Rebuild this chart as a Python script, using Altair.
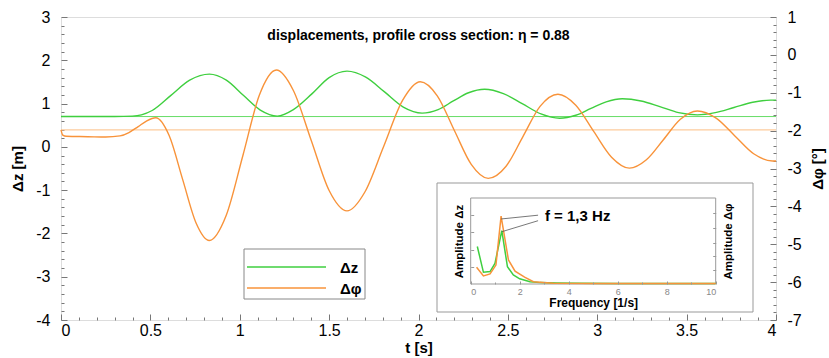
import altair as alt
import pandas as pd

# ---------------- data ----------------
t_z = [0.0, 0.1, 0.2, 0.3, 0.4, 0.45, 0.51, 0.615, 0.72, 0.83, 0.925, 1.02, 1.115,
       1.21, 1.3, 1.405, 1.5, 1.6, 1.705, 1.81, 1.915, 2.02, 2.11, 2.195, 2.28,
       2.37, 2.475, 2.58, 2.685, 2.79, 2.88, 2.965, 3.05, 3.14, 3.245, 3.35,
       3.455, 3.56, 3.66, 3.765, 3.87, 3.97, 4.0]
dz = [0.70, 0.70, 0.70, 0.70, 0.71, 0.74, 0.84, 1.19, 1.54, 1.68, 1.54, 1.19, 0.85,
      0.71, 0.86, 1.23, 1.60, 1.75, 1.61, 1.27, 0.92, 0.78, 0.86, 1.06, 1.25,
      1.33, 1.23, 1.00, 0.76, 0.66, 0.73, 0.89, 1.04, 1.11, 1.06, 0.93,
      0.79, 0.74, 0.79, 0.91, 1.03, 1.08, 1.08]

t_phi = [0.0, 0.01, 0.03, 0.15, 0.25, 0.33, 0.38, 0.43, 0.48, 0.53, 0.605, 0.68,
         0.755, 0.83, 0.924, 1.018, 1.11, 1.205, 1.30, 1.40, 1.50, 1.60, 1.70,
         1.805, 1.91, 2.01, 2.105, 2.20, 2.295, 2.39, 2.49, 2.585, 2.68, 2.78,
         2.88, 2.98, 3.08, 3.18, 3.275, 3.37, 3.465, 3.56, 3.665, 3.77, 3.875,
         3.98, 4.0]
dphi = [-1.98, -2.12, -2.15, -2.16, -2.17, -2.14, -2.05, -1.90, -1.74, -1.66, -2.13,
        -3.28, -4.43, -4.90, -4.24, -2.65, -1.06, -0.40, -0.94, -2.26, -3.58,
        -4.12, -3.62, -2.42, -1.21, -0.71, -1.08, -1.99, -2.89, -3.26, -2.94,
        -2.15, -1.36, -1.04, -1.33, -2.02, -2.70, -2.99, -2.77, -2.24, -1.70,
        -1.48, -1.67, -2.14, -2.61, -2.80, -2.80]

dz_mean = 0.70
dphi_mean = -1.98

freq_z = [0.27, 0.52, 0.79, 0.99, 1.27, 1.50, 1.74, 2.0, 2.42, 2.83, 3.5, 4.46, 6, 8, 10]
amp_z = [0.436, 0.136, 0.144, 0.24, 0.62, 0.20, 0.105, 0.06, 0.027, 0.016, 0.012,
         0.008, 0.007, 0.006, 0.006]
freq_phi = [0.24, 0.52, 0.79, 1.03, 1.24, 1.54, 1.81, 2.2, 2.56, 3.37, 5, 7, 10]
amp_phi = [0.195, 0.093, 0.117, 0.22, 0.79, 0.28, 0.15, 0.08, 0.027, 0.008, 0.007,
           0.006, 0.006]

series = ["\u0394z", "\u0394\u03c6"]
title_text = "displacements, profile cross section: \u03b7 = 0.88"
peak_text = "f = 1,3 Hz"
x_labels = [0, 0.5, 1, 1.5, 2, 2.5, 3, 3.5, 4]
yl_labels = [-4, -3, -2, -1, 0, 1, 2, 3]
yr_labels = [-7, -6, -5, -4, -3, -2, -1, 0, 1]
f_labels = [0, 2, 4, 6, 8, 10]

# ---------------- layout / style ----------------
W, H = 715, 303
GREEN = "#3fcf3f"
ORANGE = "#f8933a"
GREEN_L = "#66dd66"
ORANGE_L = "#fdcb9c"
FONT = "Liberation Sans"
TICK = "#777777"
LBL = "''+datum.value"

IX0, IX1 = 409.7, 654.7     # inset plot range (x, pixels within plot)
IYB, IYT = 267, 181         # inset plot range (y)

T = alt.Scale(domain=[0, 4], nice=False, zero=False)
Z = alt.Scale(domain=[-4, 3], nice=False, zero=False)
P = alt.Scale(domain=[-7, 1], nice=False, zero=False)
F = alt.Scale(domain=[0, 10], range=[IX0, IX1], nice=False, zero=False)
A = alt.Scale(domain=[0, 1], range=[IYB, IYT], nice=False, zero=False)

x_minor = [round(i * 0.1, 1) for i in range(41)]
yl_minor = [round(-4 + i * 0.2, 1) for i in range(36)]
yr_minor = [round(-7 + i * 0.2, 1) for i in range(41)]
f_minor = list(range(11))


def tsize(test, major, minor):
    return {"condition": {"test": test, "value": major}, "value": minor}


def tick_axis(orient, offset, values, size):
    return alt.Axis(orient=orient, offset=offset, values=values, labels=False,
                    domain=False, grid=False, title=None, tickSize=size,
                    tickColor=TICK, tickWidth=1)


one = pd.DataFrame({"a": [0]})

df_z = pd.DataFrame({"t": t_z, "v": dz})
df_p = pd.DataFrame({"t": t_phi, "v": dphi})

x_label_axis = alt.Axis(orient="bottom", values=x_labels, labelExpr=LBL, ticks=False,
                        tickSize=0, domain=False, grid=False, labelFontSize=16,
                        labelPadding=2, labelColor="black", title="t [s]",
                        titleFontSize=15, titleFontWeight="bold", titlePadding=2,
                        titleColor="black")
yl_label_axis = alt.Axis(orient="left", values=yl_labels, labelExpr=LBL, ticks=False,
                         tickSize=0, domain=False, grid=False, labelFontSize=16,
                         labelPadding=11, labelColor="black", title="\u0394z [m]",
                         titleFontSize=15, titleFontWeight="bold", titlePadding=10,
                         titleColor="black")
yr_label_axis = alt.Axis(orient="right", values=yr_labels, labelExpr=LBL, ticks=False,
                         tickSize=0, domain=False, grid=False, labelFontSize=16,
                         labelPadding=11, labelColor="black", title="\u0394\u03c6 [\u00b0]",
                         titleFontSize=15, titleFontWeight="bold", titlePadding=9,
                         titleAngle=270, titleBaseline="top", titleColor="black")

green_line = alt.Chart(df_z).mark_line(color=GREEN, strokeWidth=1.4, interpolate="monotone").encode(
    x=alt.X("t:Q", scale=T, axis=x_label_axis),
    y=alt.Y("v:Q", scale=Z, axis=yl_label_axis),
)
green_mean = alt.Chart(pd.DataFrame({"v": [dz_mean]})).mark_rule(color=GREEN_L, strokeWidth=1).encode(
    y=alt.Y("v:Q", scale=Z, axis=None)
)
green_ticks = alt.Chart(one).mark_point(opacity=0).encode(
    x=alt.X(datum=0, type="quantitative", scale=T,
            axis=tick_axis("top", -H, x_minor,
                           tsize("abs(datum.value*2-round(datum.value*2))<0.001", 6, 3))),
    y=alt.Y(datum=0, type="quantitative", scale=Z,
            axis=tick_axis("right", -W, yl_minor,
                           tsize("abs(datum.value-round(datum.value))<0.001", 6, 3))),
)

orange_line = alt.Chart(df_p).mark_line(color=ORANGE, strokeWidth=1.4, interpolate="monotone").encode(
    x=alt.X("t:Q", scale=T, axis=None),
    y=alt.Y("v:Q", scale=P, axis=yr_label_axis),
)
orange_mean = alt.Chart(pd.DataFrame({"v": [dphi_mean]})).mark_rule(color=ORANGE_L, strokeWidth=1.2).encode(
    y=alt.Y("v:Q", scale=P, axis=None)
)
orange_ticks = alt.Chart(one).mark_point(opacity=0).encode(
    y=alt.Y(datum=0, type="quantitative", scale=P,
            axis=tick_axis("left", -W, yr_minor,
                           tsize("abs(datum.value-round(datum.value))<0.001", 6, 3))),
)

title = alt.Chart(pd.DataFrame({"s": [title_text]})).mark_text(
    font=FONT, fontSize=14, fontWeight="bold", color="black", align="center", baseline="middle"
).encode(text="s:N", x=alt.value(W / 2), y=alt.value(19))

# ---- legend (manual box) ----
leg_box = alt.Chart(one).mark_rect(fill="white", stroke="#888888", strokeWidth=1).encode(
    x=alt.value(183), x2=alt.value(304), y=alt.value(232), y2=alt.value(282))
leg_z = alt.Chart(one).mark_rule(color=GREEN, strokeWidth=1.5).encode(
    x=alt.value(186), x2=alt.value(265), y=alt.value(250))
leg_p = alt.Chart(one).mark_rule(color=ORANGE, strokeWidth=1.5).encode(
    x=alt.value(186), x2=alt.value(265), y=alt.value(271))
leg_txt_z = alt.Chart(pd.DataFrame({"s": [series[0]]})).mark_text(
    font=FONT, fontSize=15, fontWeight="bold", color="black", align="left", baseline="middle"
).encode(text="s:N", x=alt.value(279), y=alt.value(251))
leg_txt_p = alt.Chart(pd.DataFrame({"s": [series[1]]})).mark_text(
    font=FONT, fontSize=15, fontWeight="bold", color="black", align="left", baseline="middle"
).encode(text="s:N", x=alt.value(279), y=alt.value(272))

# ---- inset ----
inset_box = alt.Chart(one).mark_rect(fill="white", stroke="#999999", strokeWidth=1).encode(
    x=alt.value(376), x2=alt.value(692), y=alt.value(166), y2=alt.value(295))

inset_frame = alt.Chart(one).mark_rect(fillOpacity=0, stroke="#999999", strokeWidth=1).encode(
    x=alt.X(datum=0, type="quantitative", scale=F,
            axis=alt.Axis(orient="bottom", offset=-(H - IYB), values=f_labels, labelExpr=LBL,
                          ticks=False, tickSize=0, domain=False, grid=False, labelFontSize=9,
                          labelColor="#888888", labelPadding=3, title="Frequency [1/s]",
                          titleFontSize=12, titleFontWeight="bold", titlePadding=1,
                          titleColor="black", zindex=2)),
    x2=alt.X2(datum=10),
    y=alt.Y(datum=0, type="quantitative", scale=A,
            axis=alt.Axis(orient="left", offset=-IX0, labels=False, ticks=False, tickSize=0,
                          domain=False, grid=False, title="Amplitude \u0394z",
                          titleFontSize=11.5, titleFontWeight="bold", titlePadding=6,
                          titleColor="black", zindex=2)),
    y2=alt.Y2(datum=1),
)
inset_ticks_a = alt.Chart(one).mark_point(opacity=0).encode(
    x=alt.X(datum=0, type="quantitative", scale=F,
            axis=alt.Axis(orient="top", offset=-IYB, values=f_minor, labels=False, domain=False,
                          grid=False, title=None, tickSize=tsize("datum.value%2==0", 3, 2),
                          tickColor="#999999", zindex=2)),
    y=alt.Y(datum=0, type="quantitative", scale=A,
            axis=alt.Axis(orient="right", offset=IX0 - W, values=[0.2, 0.4, 0.6, 0.8],
                          labels=False, domain=False, grid=False, title=None, tickSize=3,
                          tickColor="#999999", zindex=2)),
)
inset_ticks_b = alt.Chart(one).mark_point(opacity=0).encode(
    y=alt.Y(datum=0, type="quantitative", scale=A,
            axis=alt.Axis(orient="left", offset=-IX1, values=[0.16, 0.32, 0.48, 0.65, 0.82],
                          labels=False, domain=False, grid=False, title=None, tickSize=3,
                          tickColor="#999999", zindex=2)),
)
spec_z = alt.Chart(pd.DataFrame({"f": freq_z, "a": amp_z})).mark_line(color=GREEN, strokeWidth=1.5).encode(
    x=alt.X("f:Q", scale=F, axis=None),
    y=alt.Y("a:Q", scale=A, axis=None),
)
spec_p = alt.Chart(pd.DataFrame({"f": freq_phi, "a": amp_phi})).mark_line(color=ORANGE, strokeWidth=1.5).encode(
    x=alt.X("f:Q", scale=F, axis=None),
    y=alt.Y("a:Q", scale=A,
            axis=alt.Axis(orient="right", offset=IX1 - W, labels=False, ticks=False, tickSize=0,
                          domain=False, grid=False, title="Amplitude \u0394\u03c6",
                          titleFontSize=11.5, titleFontWeight="bold", titlePadding=7,
                          titleAngle=270, titleBaseline="top", titleColor="black", zindex=2)),
)


def leader(x1, y1, x2, y2):
    return alt.Chart(one).mark_rule(color="#555555", strokeWidth=0.8).encode(
        x=alt.X(datum=x1, type="quantitative", scale=F, axis=None),
        y=alt.Y(datum=y1, type="quantitative", scale=A, axis=None),
        x2=alt.X2(datum=x2), y2=alt.Y2(datum=y2))


lead1 = leader(1.24, 0.756, 2.75, 0.80)
lead2 = leader(1.27, 0.608, 2.75, 0.736)
peak_lbl = alt.Chart(pd.DataFrame({"s": [peak_text]})).mark_text(
    font=FONT, fontSize=15, fontWeight="bold", color="black", align="left", baseline="middle"
).encode(
    text="s:N",
    x=alt.X(datum=3.03, type="quantitative", scale=F, axis=None),
    y=alt.Y(datum=0.79, type="quantitative", scale=A, axis=None),
)

chart = alt.layer(
    green_ticks, orange_ticks, green_mean, orange_mean, green_line, orange_line, title,
    leg_box, leg_z, leg_p, leg_txt_z, leg_txt_p,
    inset_box, inset_frame, inset_ticks_a, inset_ticks_b, spec_z, spec_p,
    lead1, lead2, peak_lbl,
).resolve_scale(x="independent", y="independent").properties(
    width=W, height=H,
    autosize=alt.AutoSizeParams(type="none"),
    padding={"left": 61, "top": 17, "right": 53, "bottom": 38},
).configure_view(stroke="#888888", strokeWidth=1).configure(font=FONT, background="white")

chart.save("out.html", embed_options={"renderer": "svg", "actions": False})
